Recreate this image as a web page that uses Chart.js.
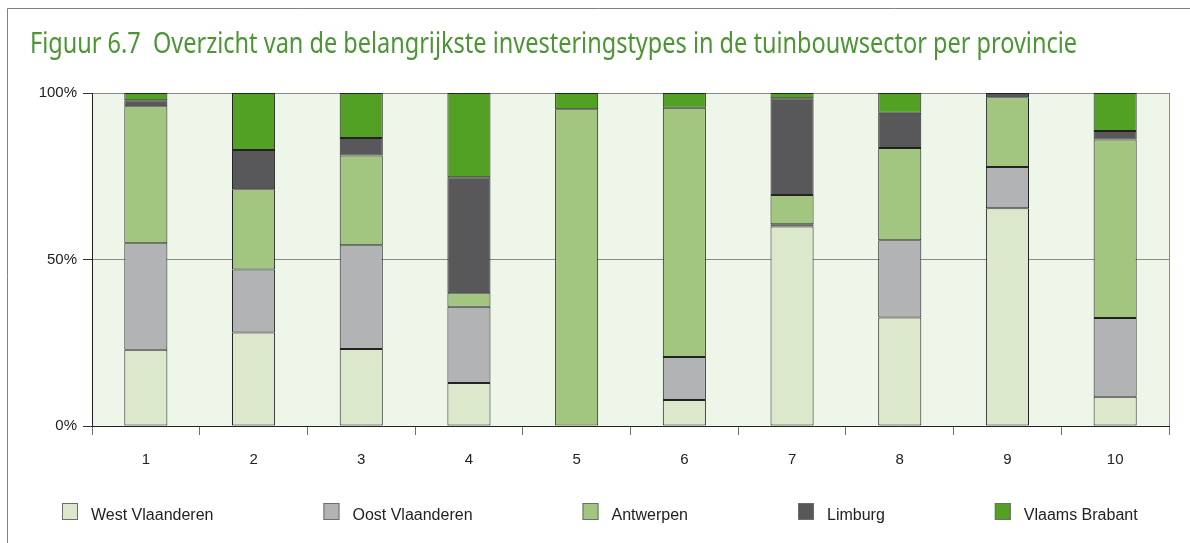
<!DOCTYPE html>
<html>
<head>
<meta charset="utf-8">
<script src="https://cdn.jsdelivr.net/npm/chart.js@4/dist/chart.umd.min.js"></script>
<style>
  html, body { margin: 0; padding: 0; background: #ffffff; }
  #wrap { position: relative; width: 1190px; height: 543px; }
  canvas { display: block; }
</style>
</head>
<body>
<div id="wrap"><canvas id="c" width="1190" height="543"></canvas></div>
<script>
const titleText = 'Figuur 6.7  Overzicht van de belangrijkste investeringstypes in de tuinbouwsector per provincie';
const categories = ['1', '2', '3', '4', '5', '6', '7', '8', '9', '10'];
const seriesNames = ['West Vlaanderen', 'Oost Vlaanderen', 'Antwerpen', 'Limburg', 'Vlaams Brabant'];
const westVlaanderen = [22.9, 28.1, 23.1, 12.9, 0, 7.8, 59.9, 32.6, 65.4, 8.8];
const oostVlaanderen = [32.0, 18.9, 31.2, 22.9, 0, 12.9, 0.7, 23.2, 12.4, 23.6];
const antwerpen = [41.1, 24.1, 26.9, 4.1, 95.1, 74.9, 8.8, 27.7, 20.9, 53.6];
const limburg = [1.8, 11.8, 5.3, 34.8, 0, 0, 29.0, 10.6, 1.3, 2.6];
const vlaamsBrabant = [2.2, 17.1, 13.5, 25.3, 4.9, 4.4, 1.6, 5.9, 0, 11.4];
const yTickValues = [0, 50, 100];

const colors = ['#dce8cb', '#b2b3b5', '#a2c57f', '#58585a', '#52a024'];
const seriesData = [westVlaanderen, oostVlaanderen, antwerpen, limburg, vlaamsBrabant];

const FONT = '"Liberation Sans", Arial, sans-serif';

const decorPlugin = {
  id: 'decor',
  beforeDraw(chart) {
    const ctx = chart.ctx;
    const a = chart.chartArea;
    ctx.save();
    ctx.fillStyle = '#ffffff';
    ctx.fillRect(0, 0, chart.width, chart.height);
    // frame
    ctx.strokeStyle = '#808080';
    ctx.lineWidth = 1;
    ctx.beginPath();
    ctx.moveTo(7.5, chart.height);
    ctx.lineTo(7.5, 8.5);
    ctx.lineTo(chart.width, 8.5);
    ctx.stroke();
    // plot background
    ctx.fillStyle = '#eef5e9';
    ctx.fillRect(a.left, a.top, a.right - a.left, a.bottom - a.top);
    // title
    ctx.fillStyle = '#4b9533';
    ctx.font = '29px "Noto Sans", "Open Sans", sans-serif';
    ctx.textBaseline = 'alphabetic';
    const w = ctx.measureText(titleText).width;
    const target = 1047;
    ctx.translate(30, 53);
    ctx.scale(target / w, 1);
    ctx.fillText(titleText, 0, 0);
    ctx.restore();
  },
  beforeDatasetsDraw(chart) {
    const ctx = chart.ctx;
    const a = chart.chartArea;
    ctx.save();
    ctx.strokeStyle = '#8a8a8a';
    ctx.lineWidth = 1;
    ctx.beginPath();
    ctx.moveTo(Math.round(a.right) + 0.5, a.top);
    ctx.lineTo(Math.round(a.right) + 0.5, a.bottom);
    ctx.stroke();
    ctx.restore();
  },
  afterDraw(chart) {
    // legend
    const ctx = chart.ctx;
    ctx.save();
    ctx.font = '16px ' + FONT;
    ctx.textBaseline = 'alphabetic';
    let x = 62;
    const boxTop = 503, boxW = 16, boxH = 17;
    chart.data.datasets.forEach((ds) => {
      ctx.fillStyle = ds.backgroundColor;
      ctx.fillRect(x, boxTop, boxW, boxH);
      ctx.strokeStyle = '#6e6e6e';
      ctx.lineWidth = 1;
      ctx.strokeRect(x + 0.5, boxTop + 0.5, boxW - 1, boxH - 1);
      ctx.fillStyle = '#222222';
      const tx = x + 29;
      ctx.fillText(ds.label, tx, 520);
      x = tx + ctx.measureText(ds.label).width + 110;
    });
    ctx.restore();
  }
};

new Chart(document.getElementById('c'), {
  type: 'bar',
  data: {
    labels: categories,
    datasets: seriesNames.map((name, i) => ({
      label: name,
      data: seriesData[i],
      backgroundColor: colors[i],
      borderColor: '#222222',
      borderWidth: 1,
      borderSkipped: false,
      categoryPercentage: 1.0,
      barPercentage: 0.4
    }))
  },
  options: {
    responsive: false,
    animation: false,
    devicePixelRatio: 1,
    layout: { padding: { left: 0, top: 93, right: 21, bottom: 67 } },
    plugins: {
      legend: { display: false },
      title: { display: false },
      tooltip: { enabled: false }
    },
    scales: {
      x: {
        stacked: true,
        offset: true,
        grid: {
          display: true,
          offset: true,
          drawOnChartArea: false,
          drawTicks: true,
          tickLength: 9,
          color: '#707070',
          tickColor: '#707070'
        },
        border: { display: true, color: '#222222', width: 1 },
        ticks: {
          color: '#222222',
          font: { family: FONT, size: 15 },
          padding: 16,
          maxRotation: 0
        },
        afterFit(s) { s.height = 50; }
      },
      y: {
        stacked: true,
        min: 0,
        max: 100,
        afterBuildTicks(s) { s.ticks = yTickValues.map(v => ({ value: v })); },
        grid: {
          display: true,
          drawTicks: true,
          tickLength: 9,
          color: '#8a8a8a',
          tickColor: '#333333',
          lineWidth: 1
        },
        border: { display: true, color: '#222222', width: 1 },
        ticks: {
          color: '#222222',
          font: { family: FONT, size: 15 },
          padding: 6,
          callback: (v) => v + '%'
        },
        afterFit(s) { s.width = 92; }
      }
    }
  },
  plugins: [decorPlugin]
});
</script>
</body>
</html>
